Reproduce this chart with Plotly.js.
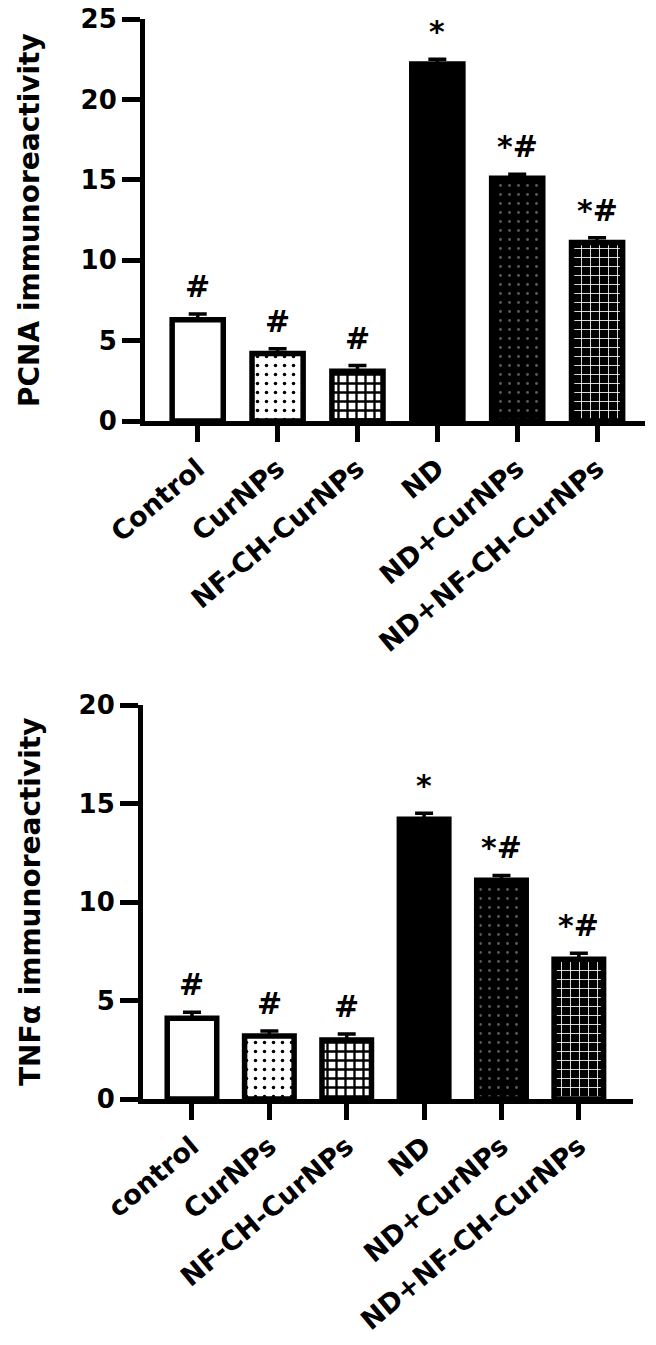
<!DOCTYPE html>
<html>
<head>
<meta charset="utf-8">
<script src="https://cdn.plot.ly/plotly-3.0.1.min.js"></script>
<style>
html,body{margin:0;padding:0;background:#fff;}
#chart{width:656px;height:1345px;}
</style>
</head>
<body>
<div id="chart"></div>
<script>
// ---- data ----
const pcnaCategories = ['Control', 'CurNPs', 'NF-CH-CurNPs', 'ND', 'ND+CurNPs', 'ND+NF-CH-CurNPs'];
const pcnaValues = [6.3, 4.2, 3.1, 22.2, 15.1, 11.1];
const pcnaErrors = [0.35, 0.3, 0.35, 0.3, 0.25, 0.3];
const pcnaSignif = ['#', '#', '#', '*', '*#', '*#'];
const pcnaTicks = [0, 5, 10, 15, 20, 25];

const tnfCategories = ['control', 'CurNPs', 'NF-CH-CurNPs', 'ND', 'ND+CurNPs', 'ND+NF-CH-CurNPs'];
const tnfValues = [4.1, 3.2, 3.0, 14.2, 11.1, 7.1];
const tnfErrors = [0.3, 0.25, 0.3, 0.3, 0.25, 0.3];
const tnfSignif = ['#', '#', '#', '*', '*#', '*#'];
const tnfTicks = [0, 5, 10, 15, 20];

const pcnaTitle = 'PCNA immunoreactivity';
const tnfTitle = 'TNFα immunoreactivity';

// ---- styles ----
const FONT = 'DejaVu Sans';
const barStyles = [
  {color: '#ffffff', shape: '',  fg: '#000000', bg: '#ffffff', solidity: 0.1, size: 9},
  {color: '#ffffff', shape: '.', fg: '#000000', bg: '#ffffff', solidity: 0.12, size: 9},
  {color: '#ffffff', shape: '+', fg: '#000000', bg: '#ffffff', solidity: 0.45, size: 9},
  {color: '#000000', shape: '',  fg: '#000000', bg: '#000000', solidity: 0.1, size: 9},
  {color: '#000000', shape: '.', fg: '#5a5a5a', bg: '#000000', solidity: 0.08, size: 9},
  {color: '#000000', shape: '+', fg: '#ffffff', bg: '#000000', solidity: 0.18, size: 9}
];

function barTraces(cats, vals, errs, xa, ya) {
  return cats.map((c, i) => {
    const s = barStyles[i];
    const marker = {color: s.color, line: {color: '#000', width: 5.5}};
    if (s.shape) {
      marker.pattern = {shape: s.shape, fgcolor: s.fg, bgcolor: s.bg, size: s.size, solidity: s.solidity};
    }
    return {
      type: 'bar',
      x: [c],
      y: [vals[i]],
      width: [0.64],
      xaxis: xa,
      yaxis: ya,
      marker: marker,
      error_y: {
        type: 'data', symmetric: false, array: [errs[i]], arrayminus: [0],
        color: '#000', thickness: 3.5, width: 9
      },
      hoverinfo: 'skip',
      showlegend: false
    };
  });
}

const data = [].concat(
  barTraces(pcnaCategories, pcnaValues, pcnaErrors, 'x', 'y'),
  barTraces(tnfCategories, tnfValues, tnfErrors, 'x2', 'y2')
);

function xAxis(domain, range, anchor, cats) {
  return {
    domain: domain, range: range, type: 'category', anchor: anchor,
    categoryorder: 'array', categoryarray: cats,
    showline: true, linecolor: '#000', linewidth: 5,
    ticks: 'outside', ticklen: 16, tickwidth: 5, tickcolor: '#000',
    tickangle: -40,
    tickfont: {family: FONT, size: 27, color: '#000', weight: 'bold'},
    showgrid: false, zeroline: false, automargin: false, fixedrange: true
  };
}
function yAxis(domain, range, ticks, anchor) {
  return {
    domain: domain, range: range, anchor: anchor,
    tickvals: ticks, ticktext: ticks.map(String),
    showline: true, linecolor: '#000', linewidth: 5,
    ticks: 'outside', ticklen: 18, tickwidth: 5, tickcolor: '#000',
    tickfont: {family: FONT, size: 26, color: '#000', weight: 'bold'},
    showgrid: false, zeroline: false, automargin: false, fixedrange: true
  };
}

const W = 656, H = 1345;
const annotations = [];
function addSig(cats, vals, errs, sig, xa, ya) {
  cats.forEach((c, i) => {
    annotations.push({
      x: c, y: vals[i] + errs[i], xref: xa, yref: ya,
      text: sig[i], showarrow: false, xanchor: 'center', yanchor: 'bottom', yshift: 8,
      font: {family: FONT, size: 30, color: '#000', weight: 'bold'}
    });
  });
}
addSig(pcnaCategories, pcnaValues, pcnaErrors, pcnaSignif, 'x', 'y');
addSig(tnfCategories, tnfValues, tnfErrors, tnfSignif, 'x2', 'y2');

const topDomY = [1 - 421 / H, 1 - 19 / H];
const botDomY = [1 - 1099 / H, 1 - 705 / H];
annotations.push({
  xref: 'paper', yref: 'paper', x: 30 / W, y: (topDomY[0] + topDomY[1]) / 2,
  text: pcnaTitle, textangle: -90, showarrow: false, xanchor: 'center', yanchor: 'middle',
  font: {family: FONT, size: 28, color: '#000', weight: 'bold'}
});
annotations.push({
  xref: 'paper', yref: 'paper', x: 30 / W, y: (botDomY[0] + botDomY[1]) / 2,
  text: tnfTitle, textangle: -90, showarrow: false, xanchor: 'center', yanchor: 'middle',
  font: {family: FONT, size: 28, color: '#000', weight: 'bold'}
});

const layout = {
  width: W, height: H,
  margin: {l: 0, r: 0, t: 0, b: 0},
  paper_bgcolor: '#fff', plot_bgcolor: '#fff',
  barmode: 'overlay',
  showlegend: false,
  xaxis: xAxis([145 / W, 645 / W], [-0.66, 5.6], 'y', pcnaCategories),
  yaxis: yAxis(topDomY, [0, 25], pcnaTicks, 'x'),
  xaxis2: xAxis([143 / W, 633 / W], [-0.633, 5.7], 'y2', tnfCategories),
  yaxis2: yAxis(botDomY, [0, 20], tnfTicks, 'x2'),
  annotations: annotations
};

Plotly.newPlot('chart', data, layout, {displayModeBar: false, staticPlot: true});
</script>
</body>
</html>
